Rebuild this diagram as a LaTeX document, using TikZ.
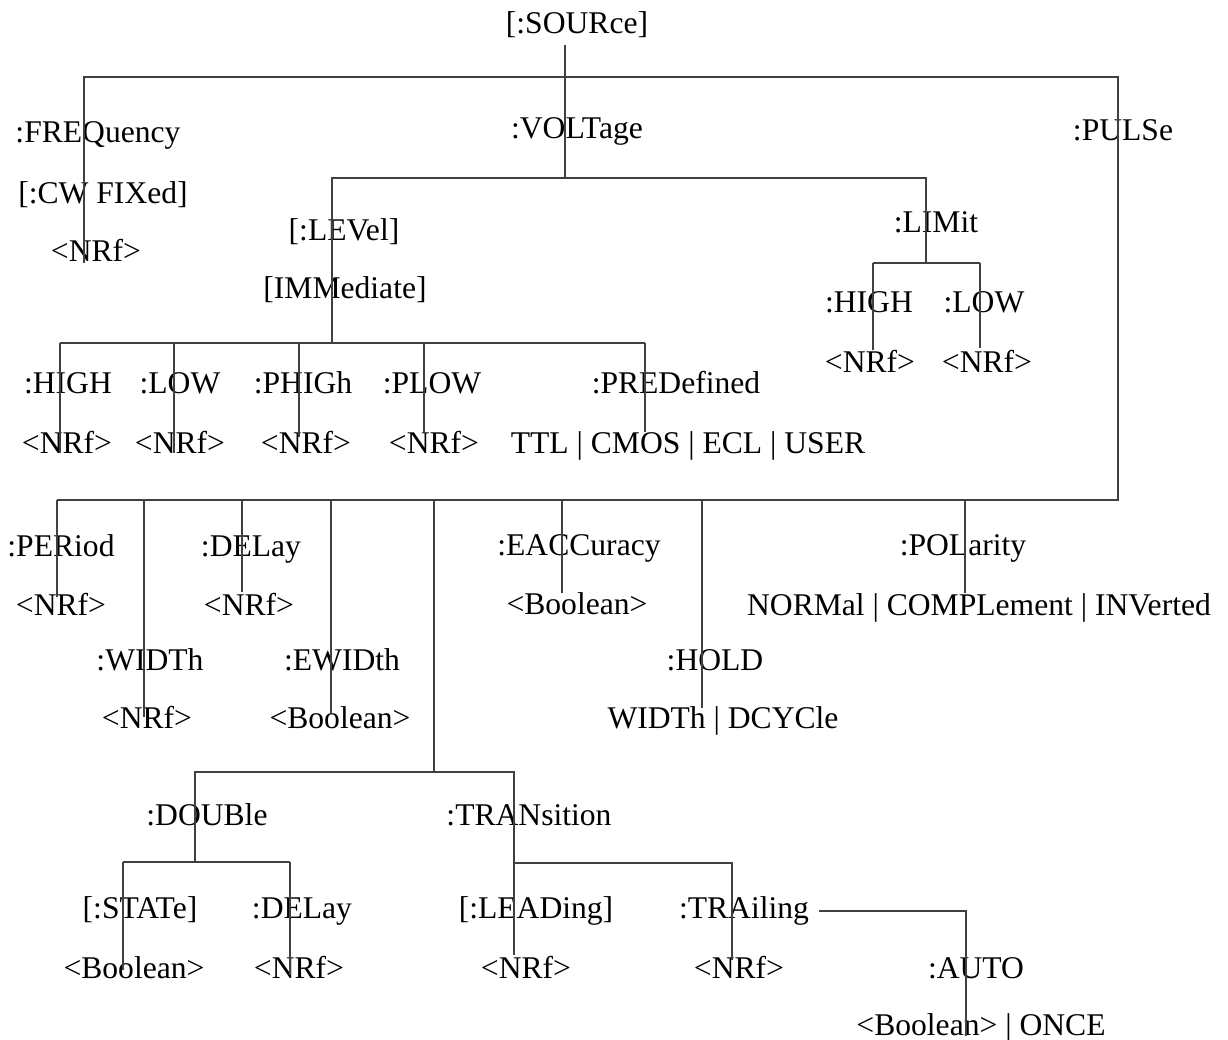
\documentclass[tikz,border=0pt]{standalone}
\usepackage{fontspec}
\setmainfont{Liberation Serif}

\begin{document}
\begin{tikzpicture}[
    x=0.5pt, y=-0.5pt,
    cmd/.style={inner sep=0pt, anchor=base, font=\fontsize{15.8}{19}\selectfont},
    wire/.style={draw=black!75, line width=0.6pt}
]
\useasboundingbox (0,0) rectangle (1228,1040);

% Top level
\node[cmd] (src) at (577,33) {[:SOURce]};
\node[cmd] (freq) at (98,142) {:FREQuency};
\node[cmd] (cw) at (103,203) {[:CW FIXed]};
\node[cmd] (freqval) at (96,261) {<NRf>};
\node[cmd] (volt) at (577,138) {:VOLTage};
\node[cmd] (pulse) at (1123,140) {:PULSe};

% Voltage branch
\node[cmd] (lev) at (344,240) {[:LEVel]};
\node[cmd] (imm) at (345,298) {[IMMediate]};
\node[cmd] (lim) at (936,232) {:LIMit};
\node[cmd] (limhigh) at (869,312) {:HIGH};
\node[cmd] (limhighval) at (870,372) {<NRf>};
\node[cmd] (limlow) at (984,312) {:LOW};
\node[cmd] (limlowval) at (987,372) {<NRf>};

\node[cmd] (high) at (68,393) {:HIGH};
\node[cmd] (highval) at (67,453) {<NRf>};
\node[cmd] (low) at (180,393) {:LOW};
\node[cmd] (lowval) at (180,453) {<NRf>};
\node[cmd] (phigh) at (303,393) {:PHIGh};
\node[cmd] (phighval) at (306,453) {<NRf>};
\node[cmd] (plow) at (432,393) {:PLOW};
\node[cmd] (plowval) at (434,453) {<NRf>};
\node[cmd] (pred) at (676,393) {:PREDefined};
\node[cmd] (predval) at (688,453) {TTL | CMOS | ECL | USER};

% Pulse branch
\node[cmd] (per) at (61,556) {:PERiod};
\node[cmd] (perval) at (61,615) {<NRf>};
\node[cmd] (width) at (150,670) {:WIDTh};
\node[cmd] (widthval) at (147,728) {<NRf>};
\node[cmd] (del) at (251,556) {:DELay};
\node[cmd] (delval) at (249,615) {<NRf>};
\node[cmd] (ewid) at (342,670) {:EWIDth};
\node[cmd] (ewidval) at (340,728) {<Boolean>};
\node[cmd] (eacc) at (579,555) {:EACCuracy};
\node[cmd] (eaccval) at (577,614) {<Boolean>};
\node[cmd] (hold) at (715,670) {:HOLD};
\node[cmd] (holdval) at (723,728) {WIDTh | DCYCle};
\node[cmd] (pol) at (963,555) {:POLarity};
\node[cmd] (polval) at (979,615) {NORMal | COMPLement | INVerted};

\node[cmd] (dbl) at (207,825) {:DOUBle};
\node[cmd] (tran) at (529,825) {:TRANsition};
\node[cmd] (state) at (140,918) {[:STATe]};
\node[cmd] (stateval) at (134,978) {<Boolean>};
\node[cmd] (dbldel) at (302,918) {:DELay};
\node[cmd] (dbldelval) at (299,978) {<NRf>};
\node[cmd] (lead) at (536,918) {[:LEADing]};
\node[cmd] (leadval) at (526,978) {<NRf>};
\node[cmd] (trail) at (744,918) {:TRAiling};
\node[cmd] (trailval) at (739,978) {<NRf>};
\node[cmd] (auto) at (976,978) {:AUTO};
\node[cmd] (autoval) at (981,1035) {<Boolean> | ONCE};

% Junctions
\coordinate (src-top) at (565,45);
\coordinate (volt-j) at (565,178);
\coordinate (freq-j) at (84,77);
\coordinate (pulse-j) at (1118,77);
\coordinate (freq-end) at (84,263);
\coordinate (pulse-bar) at (1118,500);
\coordinate (lev-j) at (332,178);
\coordinate (lim-j) at (926,178);
\coordinate (lev-bar) at (332,343);
\coordinate (lim-bar) at (926,263);
\coordinate (limhigh-j) at (873,263);
\coordinate (limlow-j) at (980,263);
\coordinate (high-j) at (60,343);
\coordinate (low-j) at (174,343);
\coordinate (phigh-j) at (299,343);
\coordinate (plow-j) at (424,343);
\coordinate (pred-j) at (645,343);
\coordinate (per-j) at (57,500);
\coordinate (width-j) at (144,500);
\coordinate (del-j) at (242,500);
\coordinate (ewid-j) at (331,500);
\coordinate (sub-j) at (434,500);
\coordinate (eacc-j) at (562,500);
\coordinate (hold-j) at (702,500);
\coordinate (pol-j) at (965,500);
\coordinate (sub-bar) at (434,772);
\coordinate (dbl-j) at (195,772);
\coordinate (tran-j) at (514,772);
\coordinate (dbl-bar) at (195,862);
\coordinate (state-j) at (123,862);
\coordinate (dbldel-j) at (290,862);
\coordinate (tran-bar) at (514,863);
\coordinate (trail-j) at (732,863);
\coordinate (auto-j) at (819,911);
\coordinate (auto-k) at (966,911);

% Tree lines
\draw[wire] (src-top) -- (volt-j);
\draw[wire] (freq-end) -- (freq-j) -- (pulse-j) -- (pulse-bar) -- (per-j);
\draw[wire] (lev-bar) -- (lev-j) -- (lim-j) -- (lim-bar);
\draw[wire] (limhigh-j) -- (limlow-j);
\draw[wire] (limhigh-j) -- ++(0,87);
\draw[wire] (limlow-j) -- ++(0,85);

\draw[wire] (high-j) -- (pred-j);
\draw[wire] (high-j) -- ++(0,110);
\draw[wire] (low-j) -- ++(0,110);
\draw[wire] (phigh-j) -- ++(0,94);
\draw[wire] (plow-j) -- ++(0,90);
\draw[wire] (pred-j) -- ++(0,89);

\draw[wire] (per-j) -- ++(0,97);
\draw[wire] (width-j) -- ++(0,217);
\draw[wire] (del-j) -- ++(0,92);
\draw[wire] (ewid-j) -- ++(0,213);
\draw[wire] (sub-j) -- (sub-bar);
\draw[wire] (eacc-j) -- ++(0,93);
\draw[wire] (hold-j) -- ++(0,208);
\draw[wire] (pol-j) -- ++(0,93);

\draw[wire] (dbl-bar) -- (dbl-j) -- (tran-j) -- ++(0,183);
\draw[wire] (state-j) -- (dbldel-j);
\draw[wire] (state-j) -- ++(0,108);
\draw[wire] (dbldel-j) -- ++(0,113);
\draw[wire] (tran-bar) -- (trail-j) -- ++(0,97);
\draw[wire] (auto-j) -- (auto-k) -- ++(0,125);

\end{tikzpicture}
\end{document}
